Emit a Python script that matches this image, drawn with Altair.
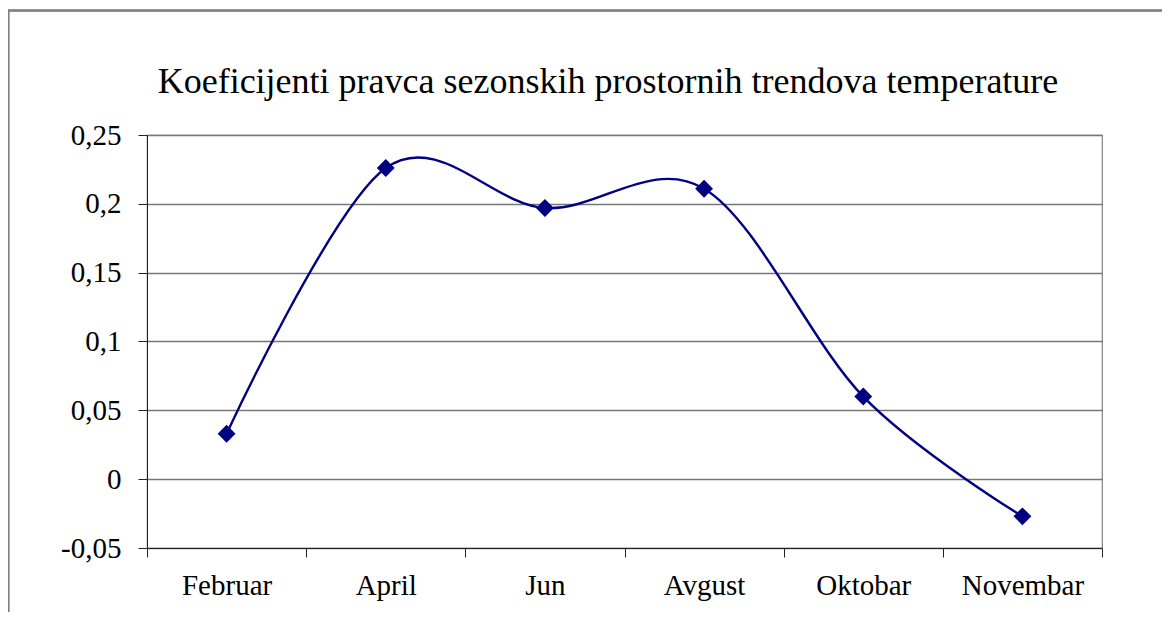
import altair as alt
import pandas as pd

months = ["Februar", "April", "Jun", "Avgust", "Oktobar", "Novembar"]
values = [0.033, 0.226, 0.197, 0.211, 0.060, -0.027]
y_ticks = [-0.05, 0, 0.05, 0.1, 0.15, 0.2, 0.25]
title_text = "Koeficijenti pravca sezonskih prostornih trendova temperature"

df = pd.DataFrame({"mesec": months, "vrednost": values})

FONT = "Liberation Serif"

x_enc = alt.X(
    "mesec:N",
    sort=months,
    scale=alt.Scale(type="band", paddingInner=0, paddingOuter=0),
    axis=alt.Axis(
        title=None, labelAngle=0, tickBand="extent", grid=False,
        domainColor="#222222", tickColor="#222222", tickSize=9,
        labelFont=FONT, labelFontSize=29, labelColor="#000000", labelPadding=14,
    ),
)
y_enc = alt.Y(
    "vrednost:Q",
    scale=alt.Scale(domain=[-0.05, 0.25], nice=False, zero=False),
    axis=alt.Axis(
        title=None, values=y_ticks, grid=True, gridColor="#777777", gridWidth=1.3,
        domainColor="#222222", tickColor="#222222", tickSize=9,
        labelExpr="replace(datum.value + '', '.', ',')",
        labelFont=FONT, labelFontSize=29, labelColor="#000000", labelPadding=17,
    ),
)

line = alt.Chart(df).mark_line(
    interpolate="cardinal", tension=0, color="#000080", strokeWidth=2.4
).encode(x=x_enc, y=y_enc)

points = alt.Chart(df).mark_point(
    shape="diamond", filled=True, size=320, color="#000080", opacity=1
).encode(x=x_enc, y=y_enc)

frame = alt.Chart(df).mark_rect(
    fill=None, stroke="#808080", strokeWidth=1.3, clip=False
).encode(
    x=alt.value(-138.5), x2=alt.value(1300),
    y=alt.value(-124.5), y2=alt.value(800),
)

title = alt.Chart(pd.DataFrame({"t": [title_text]})).mark_text(
    font=FONT, fontSize=36, color="#000000", align="center", baseline="alphabetic"
).encode(text="t:N", x=alt.value(461), y=alt.value(-42))

chart = alt.layer(frame, line, points, title).properties(
    width=955,
    height=413,
    autosize=alt.AutoSizeParams(type="none"),
    padding={"left": 139, "top": 127, "right": 60, "bottom": 64},
).configure_view(stroke="#808080", strokeWidth=1.2)

chart.save("out.html", embed_options={"renderer": "svg", "actions": False})
